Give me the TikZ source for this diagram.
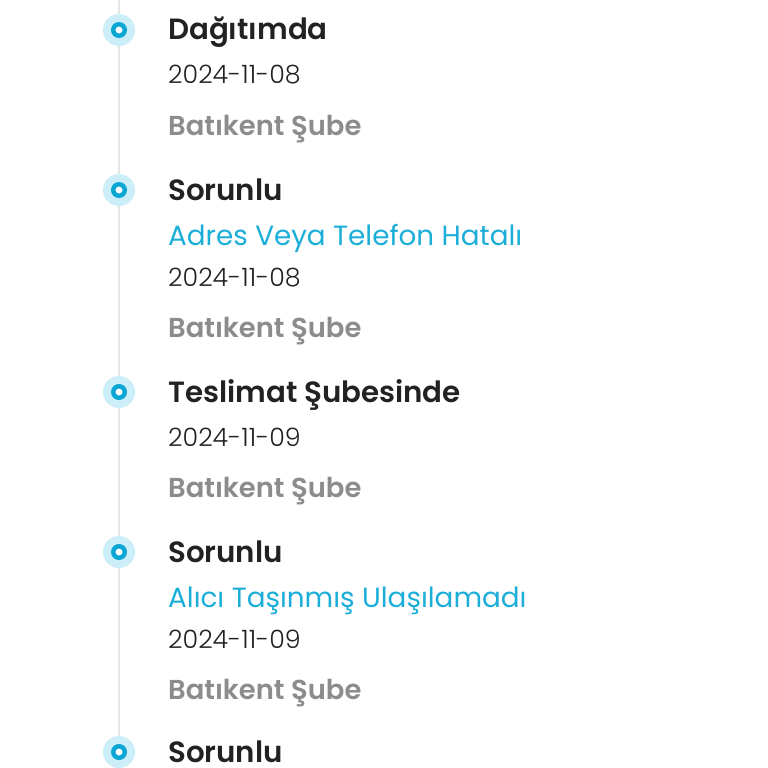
\documentclass[tikz,border=0pt]{standalone}
\usepackage{fontspec}
\setmainfont{Poppins}
\newfontfamily\semibold{Poppins SemiBold}
\newfontfamily\light{Poppins Light}
\usepackage{tikz}
\usetikzlibrary{backgrounds}

\definecolor{darktext}{HTML}{222222}
\definecolor{linkblue}{HTML}{1AAED8}
\definecolor{branchgray}{HTML}{8C8C8C}
\definecolor{halo}{HTML}{CCEEF8}
\definecolor{ringblue}{HTML}{0AA6D4}
\definecolor{railgray}{HTML}{E6E6E6}

\begin{document}
\begin{tikzpicture}[
            x = 1pt, y = -1pt, % pixel grid, y downwards
            every node/.style = {inner sep = 0pt, anchor = base west},
            marker/.style = {circle, anchor = center, minimum size = 32pt,
                fill = halo, path picture = {
                    \draw[ringblue, line width = 4.5pt, fill = white]
                        (path picture bounding box.center) circle (5.75pt);}},
            status/.style = {font = \semibold\fontsize{29.3}{33}\selectfont, text = darktext},
            reason/.style = {font = \fontsize{27.8}{32}\selectfont, text = linkblue},
            date/.style = {font = \light\fontsize{25.3}{30}\selectfont, text = darktext},
            branch/.style = {font = \semibold\fontsize{27.4}{32}\selectfont, text = branchgray},
            rail/.style = {draw = railgray, line width = 1.5pt}
        ]

        \useasboundingbox (0,0) rectangle (768,768);

        % markers
        \node[marker] (m1) at (119,30) {};
        \node[marker] (m2) at (119,190) {};
        \node[marker] (m3) at (119,392) {};
        \node[marker] (m4) at (119,552) {};
        \node[marker] (m5) at (119,752) {};
        \coordinate (top) at (119,0);
        \coordinate (bottom) at (119,768);

        % first step
        \node[status] (s1) at (168,40) {Dağıtımda};
        \node[date] (d1) at (168,83) {2024-11-08};
        \node[branch] (b1) at (168,135) {Batıkent Şube};

        % second step
        \node[status] (s2) at (168,200) {Sorunlu};
        \node[reason] (r2) at (168,245) {Adres Veya Telefon Hatalı};
        \node[date] (d2) at (168,286) {2024-11-08};
        \node[branch] (b2) at (168,337) {Batıkent Şube};

        % third step
        \node[status] (s3) at (168,402) {Teslimat Şubesinde};
        \node[date] (d3) at (168,446) {2024-11-09};
        \node[branch] (b3) at (168,497) {Batıkent Şube};

        % fourth step
        \node[status] (s4) at (168,562) {Sorunlu};
        \node[reason] (r4) at (168,607) {Alıcı Taşınmış Ulaşılamadı};
        \node[date] (d4) at (168,648) {2024-11-09};
        \node[branch] (b4) at (168,699) {Batıkent Şube};

        % fifth step
        \node[status] (s5) at (168,762) {Sorunlu};

        \begin{scope}[on background layer]
            \fill[white] (0,0) rectangle (768,768);
            \path[rail] (top) -- (m1) -- (m2) -- (m3) -- (m4) -- (m5) -- (bottom);
        \end{scope}

  \end{tikzpicture}
\end{document}
